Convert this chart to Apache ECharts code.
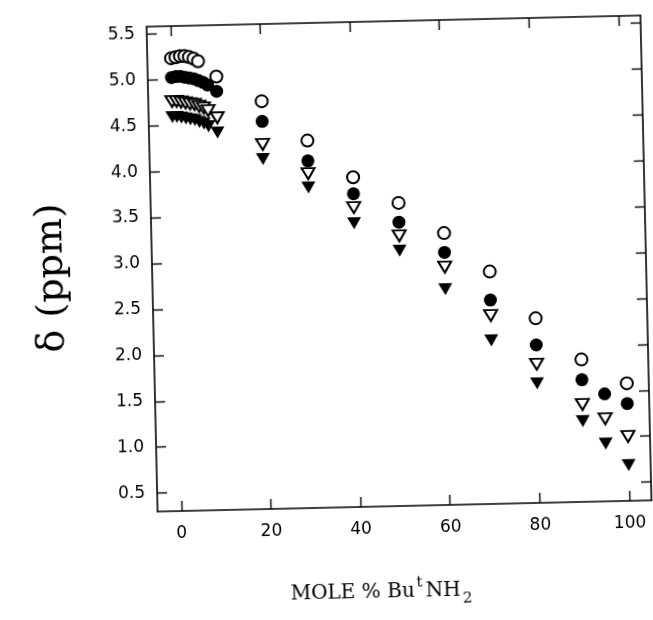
<!DOCTYPE html>
<html>
<head>
<meta charset="utf-8">
<title>Chemical shift vs mole % ButNH2</title>
<script src="https://cdn.jsdelivr.net/npm/echarts@6/dist/echarts.min.js"></script>
<style>
  html, body { margin: 0; padding: 0; background: #fff; }
  #chart {
    width: 653px; height: 620px;
    /* the printed figure sits slightly tilted on the page */
    transform: rotate(-1.3deg);
    transform-origin: 399px 263px;
  }
</style>
</head>
<body>
<div id="chart"></div>
<script>
// Mole % tert-butylamine for each series
const openCircleX   = [0, 1, 2, 3, 4, 5, 6, 10, 20, 30, 40, 50, 60, 70, 80, 90, 100];
const filledCircleX = [0, 1, 2, 3, 4, 5, 6, 7, 8, 10, 20, 30, 40, 50, 60, 70, 80, 90, 95, 100];
const openTriX      = [0, 1, 2, 3, 4, 5, 6, 7, 8, 10, 20, 30, 40, 50, 60, 70, 80, 90, 95, 100];
const filledTriX    = [0, 1, 2, 3, 4, 5, 6, 7, 8, 10, 20, 30, 40, 50, 60, 70, 80, 90, 95, 100];

// Chemical shifts δ (ppm)
const openCircleY   = [5.23, 5.24, 5.25, 5.25, 5.24, 5.22, 5.19, 5.02, 4.74, 4.30, 3.89, 3.60, 3.26, 2.83, 2.31, 1.85, 1.58];
const filledCircleY = [5.02, 5.03, 5.03, 5.02, 5.01, 5.00, 4.98, 4.96, 4.93, 4.86, 4.52, 4.08, 3.71, 3.39, 3.05, 2.52, 2.02, 1.63, 1.47, 1.36];
const openTriY      = [4.76, 4.76, 4.75, 4.74, 4.73, 4.72, 4.70, 4.68, 4.65, 4.57, 4.27, 3.94, 3.56, 3.24, 2.89, 2.35, 1.81, 1.36, 1.20, 1.00];
const filledTriY    = [4.59, 4.59, 4.58, 4.57, 4.56, 4.55, 4.53, 4.51, 4.48, 4.41, 4.11, 3.79, 3.39, 3.08, 2.65, 2.08, 1.60, 1.18, 0.93, 0.69];

// Tick labels
const xTicks = [0, 20, 40, 60, 80, 100];
const yTicks = [0.5, 1.0, 1.5, 2.0, 2.5, 3.0, 3.5, 4.0, 4.5, 5.0, 5.5];

const pairs = (xs, ys) => xs.map((x, i) => [x, ys[i]]);

const INK = '#000';
const tickFont = { fontFamily: 'DejaVu Sans', fontSize: 17, color: INK };

function xAxisDef(pos, showLabels) {
  return {
    type: 'value', position: pos, min: -5.3, max: 104.9,
    splitLine: { show: false },
    axisLine: { show: true, onZero: false, lineStyle: { color: INK, width: 1.6 } },
    axisTick: { show: true, inside: true, length: 10, customValues: xTicks, lineStyle: { color: INK, width: 1.4 } },
    axisLabel: showLabels
      ? Object.assign({ show: true, margin: 14, customValues: xTicks }, tickFont)
      : { show: false }
  };
}

function yAxisDef(pos, showLabels) {
  return {
    type: 'value', position: pos, min: 0.3, max: 5.58,
    splitLine: { show: false },
    axisLine: { show: true, onZero: false, lineStyle: { color: INK, width: 1.6 } },
    axisTick: { show: true, inside: true, length: 10, customValues: yTicks, lineStyle: { color: INK, width: 1.4 } },
    axisLabel: showLabels
      ? Object.assign({ show: true, margin: 12, customValues: yTicks,
          formatter: v => v.toFixed(1) }, tickFont)
      : { show: false }
  };
}

const openStyle   = { color: '#fff', borderColor: INK, borderWidth: 2, opacity: 1 };
const filledStyle = { color: INK, borderColor: INK, borderWidth: 0, opacity: 1 };

const chart = echarts.init(document.getElementById('chart'), null, { renderer: 'canvas' });
chart.setOption({
  animation: false,
  backgroundColor: '#fff',
  grid: { left: 152, top: 21, width: 494, height: 485, containLabel: false },
  xAxis: [xAxisDef('bottom', true), xAxisDef('top', false)],
  yAxis: [yAxisDef('left', true), yAxisDef('right', false)],
  series: [
    { type: 'scatter', name: 'open circle', data: pairs(openCircleX, openCircleY),
      symbol: 'circle', symbolSize: 12, itemStyle: openStyle },
    { type: 'scatter', name: 'filled circle', data: pairs(filledCircleX, filledCircleY),
      symbol: 'circle', symbolSize: 13, itemStyle: filledStyle },
    { type: 'scatter', name: 'open triangle', data: pairs(openTriX, openTriY),
      symbol: 'triangle', symbolRotate: 180, symbolSize: [13, 11], itemStyle: openStyle },
    { type: 'scatter', name: 'filled triangle', data: pairs(filledTriX, filledTriY),
      symbol: 'triangle', symbolRotate: 180, symbolSize: [14, 12], itemStyle: filledStyle }
  ],
  graphic: [
    {
      type: 'text', x: 52, y: 270, rotation: Math.PI / 2,
      style: {
        text: 'δ (ppm)', fill: INK,
        fontFamily: 'DejaVu Serif', fontSize: 38,
        align: 'center', verticalAlign: 'middle'
      }
    },
    {
      type: 'text', x: 374, y: 592,
      style: {
        text: 'MOLE % Bu{sup|t}NH{sub|2}', fill: INK,
        fontFamily: 'DejaVu Serif', fontSize: 20, lineHeight: 32,
        align: 'center', verticalAlign: 'middle',
        rich: {
          sup: { fontFamily: 'DejaVu Serif', fontSize: 15, lineHeight: 14, verticalAlign: 'top', padding: [0, 3, 0, 2] },
          sub: { fontFamily: 'DejaVu Serif', fontSize: 15, lineHeight: 14, verticalAlign: 'bottom', padding: [0, 0, 0, 2] }
        }
      }
    }
  ]
});
</script>
</body>
</html>
